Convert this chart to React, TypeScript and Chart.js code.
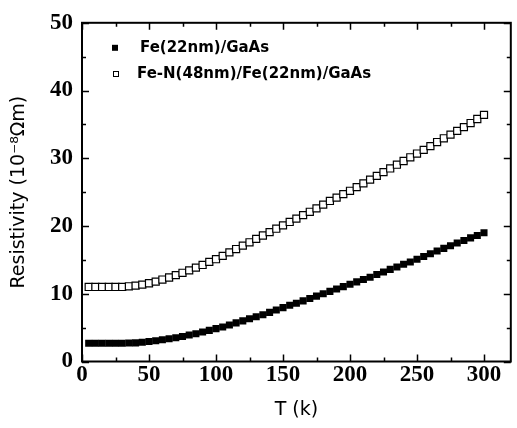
import React, { useEffect, useRef } from 'react';
import { Chart, registerables } from 'chart.js';

Chart.register(...registerables);

// ---- data ----
const temperatures = [
  5, 10, 15, 20, 25, 30, 35, 40, 45, 50,
  55, 60, 65, 70, 75, 80, 85, 90, 95, 100,
  105, 110, 115, 120, 125, 130, 135, 140, 145, 150,
  155, 160, 165, 170, 175, 180, 185, 190, 195, 200,
  205, 210, 215, 220, 225, 230, 235, 240, 245, 250,
  255, 260, 265, 270, 275, 280, 285, 290, 295, 300,
];

const feValues = [
  2.7, 2.7, 2.7, 2.7, 2.7, 2.7, 2.72, 2.75, 2.85, 2.95,
  3.05, 3.2, 3.35, 3.5, 3.7, 3.9, 4.1, 4.35, 4.6, 4.85,
  5.1, 5.4, 5.7, 6.0, 6.3, 6.6, 6.9, 7.25, 7.6, 7.95,
  8.3, 8.6, 8.95, 9.3, 9.65, 10.0, 10.35, 10.7, 11.05, 11.4,
  11.75, 12.1, 12.45, 12.85, 13.2, 13.6, 13.95, 14.35, 14.7, 15.1,
  15.5, 15.9, 16.3, 16.7, 17.1, 17.5, 17.85, 18.25, 18.6, 19.0,
];

const feNValues = [
  11.0, 11.0, 11.0, 11.0, 11.0, 11.0, 11.1, 11.2, 11.35, 11.55,
  11.8, 12.1, 12.4, 12.75, 13.1, 13.45, 13.85, 14.25, 14.7, 15.1,
  15.6, 16.1, 16.6, 17.1, 17.6, 18.1, 18.6, 19.1, 19.6, 20.1,
  20.6, 21.1, 21.6, 22.1, 22.6, 23.15, 23.7, 24.2, 24.7, 25.2,
  25.75, 26.3, 26.85, 27.4, 27.95, 28.5, 29.05, 29.6, 30.15, 30.7,
  31.25, 31.8, 32.4, 32.95, 33.5, 34.05, 34.6, 35.2, 35.8, 36.4,
];

const seriesLabels = ['Fe(22nm)/GaAs', 'Fe-N(48nm)/Fe(22nm)/GaAs'];
const xTickLabels = [0, 50, 100, 150, 200, 250, 300];
const yTickLabels = [0, 10, 20, 30, 40, 50];
const xRange = [0, 320];
const yRange = [0, 50];
const xTitle = 'T (k)';
const yTitle = 'Resistivity (10\u207B\u2078\u03A9m)';

// ---- plugins ----
const framePlugin = {
  id: 'frame',
  afterDatasetsDraw(chart: any) {
    const { ctx, chartArea, scales } = chart;
    const { left, right, top, bottom } = chartArea;
    const xs = scales.x;
    const ys = scales.y;
    ctx.save();
    ctx.strokeStyle = '#000';
    ctx.lineWidth = 2;
    ctx.strokeRect(left, top, right - left, bottom - top);
    ctx.lineWidth = 1.5;
    const xMajorStep = xTickLabels[1] - xTickLabels[0];
    const yMajorStep = yTickLabels[1] - yTickLabels[0];
    for (let v = xRange[0]; v <= xRange[1]; v += xMajorStep / 2) {
      const px = Math.round(xs.getPixelForValue(v)) + 0.5;
      const len = v % xMajorStep === 0 ? 7 : 4;
      ctx.beginPath();
      ctx.moveTo(px, bottom);
      ctx.lineTo(px, bottom - len);
      ctx.moveTo(px, top);
      ctx.lineTo(px, top + len);
      ctx.stroke();
    }
    for (let v = yRange[0]; v <= yRange[1]; v += yMajorStep / 2) {
      const py = Math.round(ys.getPixelForValue(v)) + 0.5;
      const len = v % yMajorStep === 0 ? 7 : 4;
      ctx.beginPath();
      ctx.moveTo(left, py);
      ctx.lineTo(left + len, py);
      ctx.moveTo(right, py);
      ctx.lineTo(right - len, py);
      ctx.stroke();
    }
    ctx.restore();
  },
};

const legendPlugin = {
  id: 'innerLegend',
  afterDraw(chart: any) {
    const { ctx, chartArea } = chart;
    const { left, top } = chartArea;
    const rows = [
      { markerX: left + 33, markerY: top + 25, size: 6, filled: true, textX: left + 58 },
      { markerX: left + 33, markerY: top + 51, size: 5, filled: false, textX: left + 55 },
    ];
    ctx.save();
    ctx.font = 'bold 15px "DejaVu Sans"';
    ctx.textBaseline = 'middle';
    ctx.textAlign = 'left';
    ctx.fillStyle = '#000';
    chart.data.datasets.forEach((ds: any, i: number) => {
      const r = rows[i];
      if (!r) return;
      const h = r.size / 2;
      if (r.filled) {
        ctx.fillStyle = '#000';
        ctx.fillRect(r.markerX - h, r.markerY - h, r.size, r.size);
      } else {
        ctx.strokeStyle = '#000';
        ctx.lineWidth = 1;
        ctx.strokeRect(Math.round(r.markerX - h) + 0.5, Math.round(r.markerY - h) + 0.5, r.size, r.size);
      }
      ctx.fillStyle = '#000';
      ctx.fillText(ds.label, r.textX, r.markerY);
    });
    ctx.restore();
  },
};

export default function App() {
  const canvasRef = useRef<HTMLCanvasElement | null>(null);

  useEffect(() => {
    if (!canvasRef.current) return;
    const tickFont = { family: '"Liberation Serif", serif', weight: 'bold' as const, size: 23 };
    const titleFont = { family: '"DejaVu Sans", sans-serif', size: 19, lineHeight: 1.2 };
    const chart = new Chart(canvasRef.current, {
      type: 'scatter',
      data: {
        datasets: [
          {
            label: seriesLabels[0],
            data: temperatures.map((t, i) => ({ x: t, y: feValues[i] })),
            pointStyle: 'rect',
            pointRadius: 5,
            pointBackgroundColor: '#000',
            pointBorderColor: '#000',
            pointBorderWidth: 0,
            showLine: false,
          },
          {
            label: seriesLabels[1],
            data: temperatures.map((t, i) => ({ x: t, y: feNValues[i] })),
            pointStyle: 'rect',
            pointRadius: 5,
            pointBackgroundColor: '#fff',
            pointBorderColor: '#000',
            pointBorderWidth: 1.2,
            showLine: false,
          },
        ],
      },
      options: {
        responsive: false,
        animation: false,
        events: [],
        layout: { padding: { top: 15, right: 3, left: 0, bottom: 0 } },
        plugins: {
          legend: { display: false },
          tooltip: { enabled: false },
        },
        scales: {
          x: {
            type: 'linear',
            min: xRange[0],
            max: xRange[1],
            grid: { display: false, drawTicks: false },
            border: { display: false },
            afterBuildTicks: (s: any) => {
              s.ticks = xTickLabels.map((v) => ({ value: v }));
            },
            afterFit: (s: any) => {
              s.height = 66.5;
            },
            ticks: {
              autoSkip: false,
              maxRotation: 0,
              padding: 0,
              color: '#000',
              font: tickFont,
            },
            title: {
              display: true,
              text: xTitle,
              color: '#000',
              font: titleFont,
              padding: { top: 0, bottom: 7 },
            },
          },
          y: {
            type: 'linear',
            min: yRange[0],
            max: yRange[1],
            grid: { display: false, drawTicks: false },
            border: { display: false },
            afterBuildTicks: (s: any) => {
              s.ticks = yTickLabels.map((v) => ({ value: v }));
            },
            afterFit: (s: any) => {
              s.width = 82;
            },
            ticks: {
              padding: 9,
              color: '#000',
              font: tickFont,
            },
            title: {
              display: true,
              text: yTitle,
              color: '#000',
              font: titleFont,
              padding: { top: 8, bottom: 0 },
            },
          },
        },
      },
      plugins: [framePlugin, legendPlugin],
    });
    return () => chart.destroy();
  }, []);

  return (
    <div style={{ position: 'fixed', left: 0, top: 0, width: 517, height: 428, background: '#fff' }}>
      <canvas ref={canvasRef} width={517} height={428} style={{ width: 517, height: 428, display: 'block' }} />
    </div>
  );
}
